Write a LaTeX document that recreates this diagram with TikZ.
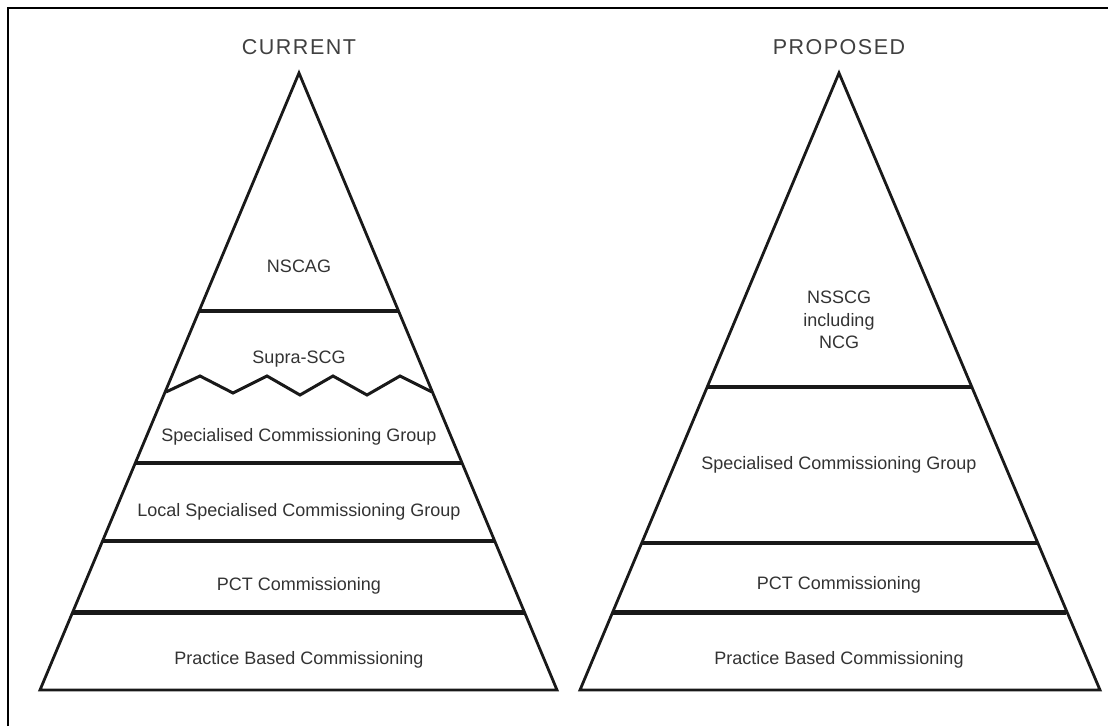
\documentclass[tikz,border=0pt]{standalone}
\usepackage{fontspec}
\setmainfont{Liberation Sans}
\usetikzlibrary{calc}
\begin{document}
\begin{tikzpicture}[x=1pt,y=-1pt,
  side/.style={line width=2.8pt,line join=miter,black!90},
  layer/.style={line width=4pt,black!90},
  thicklayer/.style={line width=5pt,black!90},
  lbl/.style={font=\fontsize{18}{22}\selectfont,text=black!80,inner sep=0pt},
  ttl/.style={font=\fontsize{21.5}{24}\selectfont\addfontfeature{LetterSpace=7},text=black!75,inner sep=0pt}]
\useasboundingbox (0,0) rectangle (1108,726);
% outer frame (left and top edges only visible)
\draw[line width=2.4pt] (8,726) -- (8,8) -- (1108,8);

% ---------- CURRENT ----------
\coordinate (A1) at (299,73);
\coordinate (BL1) at (40,690);
\coordinate (BR1) at (557,690);
\draw[side] (BL1) -- (A1) -- (BR1) -- cycle;
\draw[layer] (199.3,311) -- (398.7,311);
\draw[side,line width=3pt] (166,392) -- (200,376) -- (233,393) -- (267,376) -- (300,395)
  -- (333,376) -- (367,395) -- (400,376) -- (432,392);
\draw[layer] (135.6,463) -- (462.4,463);
\draw[layer] (102.9,541) -- (495.1,541);
\draw[thicklayer] (73.2,612) -- (524.8,612);

\node[ttl] (t1) at (299,47) {CURRENT};
\node[lbl] (n1) at (299,266) {NSCAG};
\node[lbl] (n2) at (299,359) {Supra-SCG};
\node[lbl] (n3) at (299,437) {Specialised Commissioning Group};
\node[lbl] (n4) at (299,512) {Local Specialised Commissioning Group};
\node[lbl] (n5) at (299,586) {PCT Commissioning};
\node[lbl] (n6) at (299,660) {Practice Based Commissioning};

% ---------- PROPOSED ----------
\coordinate (A2) at (839,73);
\coordinate (BL2) at (580,690);
\coordinate (BR2) at (1100,690);
\draw[side] (BL2) -- (A2) -- (BR2) -- cycle;
\draw[layer] (706.7,387) -- (971.3,387);
\draw[layer] (641,543) -- (1037,543);
\draw[thicklayer] (612,612) -- (1066,612);

\node[ttl] (t2) at (839,47) {PROPOSED};
\node[lbl,align=center,font=\fontsize{18}{22.5}\selectfont] (m1) at (839,320) {NSSCG\\including\\NCG};
\node[lbl] (m2) at (839,465) {Specialised Commissioning Group};
\node[lbl] (m3) at (839,585) {PCT Commissioning};
\node[lbl] (m4) at (839,660) {Practice Based Commissioning};
\end{tikzpicture}
\end{document}
